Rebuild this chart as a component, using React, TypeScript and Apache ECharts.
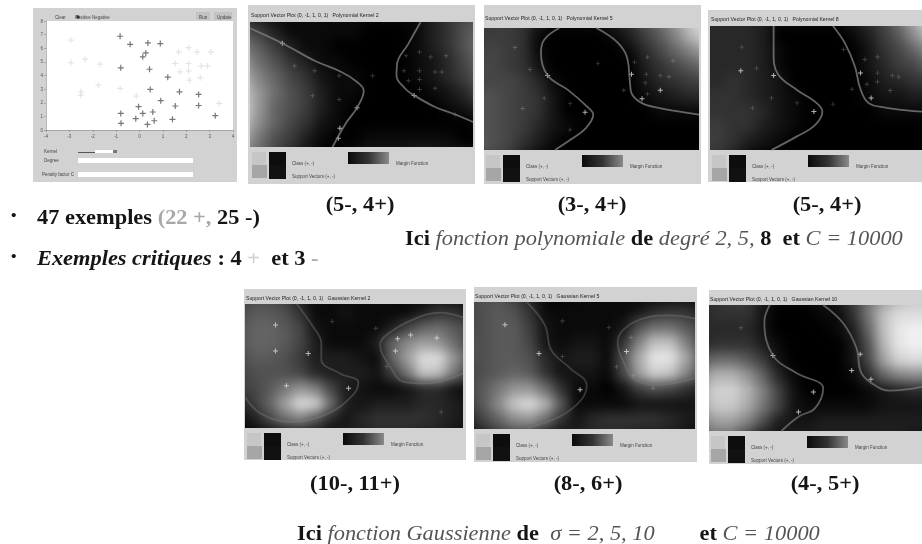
import React, { useEffect, useRef } from "react";
import * as echarts from "echarts";

// ---- first panel: training set
const negativeExamples = [[-0.83,6.88],[-0.4,6.29],[0.36,6.39],[0.89,6.34],[0.27,5.66],[0.14,5.37],[-0.8,4.56],[0.43,4.46],[1.21,3.88],[0.46,2.98],[1.71,2.8],[2.53,2.61],[0.91,2.15],[1.53,1.76],[2.53,1.8],[-0.04,1.71],[0.14,1.22],[0.57,1.32],[-0.8,1.22],[-0.16,0.83],[-0.79,0.49],[0.63,0.68],[0.34,0.41],[1.41,0.78],[3.24,1.05]];
const positiveExamples = [[-2.94,6.59],[-2.94,4.95],[-2.33,5.2],[-1.69,4.83],[-1.76,3.29],[-2.51,2.8],[-2.51,2.56],[-0.83,3.05],[1.67,5.73],[2.1,6.05],[2.46,5.73],[3.06,5.73],[1.53,4.88],[2.1,4.88],[2.64,4.71],[2.91,4.71],[1.74,4.27],[2.1,4.34],[2.14,3.66],[2.6,3.83],[3.41,1.95],[-0.14,2.49]];

// ---- density maps, grey level / 10, 16 columns by 10 rows
const heatPoly2 = [
[4,2,1,1,1,1,1,1,1,1,1,1,3,5,7,8],[8,6,3,1,1,1,1,1,0,0,0,1,3,5,8,10],[12,9,6,3,1,1,0,0,0,0,0,1,3,5,8,11],[15,11,8,5,3,1,1,0,0,0,0,1,2,4,7,10],[18,13,10,7,5,2,1,1,0,0,0,1,2,4,6,9],
[20,15,11,8,6,3,1,1,0,0,0,0,1,2,4,7],[21,15,10,8,6,3,1,0,0,0,0,0,0,1,2,4],[20,14,10,7,5,2,1,0,0,0,0,0,0,0,0,1],[17,12,8,6,3,1,0,0,1,1,1,1,1,1,0,0],[14,10,7,4,2,0,0,1,2,2,2,3,3,2,2,1]];
const heatPoly5 = [
[5,6,6,5,3,1,1,1,2,3,5,8,11,15,20,23],[6,6,6,5,1,0,0,0,0,1,3,6,9,13,18,21],[6,7,6,5,1,0,0,0,0,0,1,4,7,10,13,16],[7,7,6,5,2,0,0,0,0,0,0,3,5,7,9,11],[7,7,7,6,4,1,0,0,0,0,0,2,4,5,6,7],
[8,8,7,6,5,2,0,0,0,0,0,1,2,3,4,4],[8,8,7,6,5,2,0,0,0,0,0,0,1,1,1,1],[8,8,7,6,4,2,1,0,0,0,0,0,0,0,0,0],[9,8,7,5,3,1,0,0,0,0,0,0,0,0,0,0],[8,7,6,3,1,0,0,0,0,0,0,0,0,0,0,0]];
const heatPoly8 = [
[4,4,4,4,3,1,1,1,1,1,3,5,7,11,17,22],[4,4,4,4,3,0,0,0,0,0,1,3,6,9,14,19],[4,4,4,4,3,1,0,0,0,0,0,2,5,7,10,14],[4,4,4,4,3,1,0,0,0,0,0,2,4,6,7,10],[4,4,5,4,3,2,0,0,0,0,0,1,3,4,5,6],
[5,5,5,4,3,2,1,0,0,0,0,1,2,2,3,3],[5,5,5,5,4,2,1,0,0,0,0,0,1,1,1,1],[6,6,5,5,3,2,1,0,0,0,0,0,0,0,0,0],[6,6,5,3,2,1,0,0,0,0,0,0,0,0,0,0],[6,5,3,1,0,0,0,0,0,0,0,0,0,0,0,0]];
const heatGauss2 = [
[6,7,7,6,3,1,1,1,1,1,1,1,1,2,1,1],[7,9,9,8,5,1,1,2,1,1,1,1,3,5,5,3],[8,10,10,9,7,2,1,1,1,1,3,7,10,11,9,7],[8,10,10,9,7,3,1,1,1,3,10,14,16,15,11,7],[7,9,9,8,6,3,3,3,2,1,10,16,22,22,15,9],
[6,8,8,8,7,4,3,3,3,2,6,12,20,19,12,6],[6,7,9,12,15,13,7,3,2,1,1,2,4,4,2,1],[3,6,10,16,22,21,11,3,2,3,3,3,4,4,3,2],[1,3,7,11,13,9,4,2,4,5,5,5,5,4,3,2],[0,1,1,2,2,2,1,3,3,4,4,4,3,3,2,1]];
const heatGauss5 = [
[7,8,8,6,3,1,0,1,1,1,1,1,1,1,1,1],[7,8,9,8,5,1,1,1,1,1,1,2,4,5,5,3],[7,8,9,9,6,2,1,1,1,1,2,8,11,11,9,6],[8,8,9,9,7,2,1,2,2,1,5,13,19,19,13,7],[8,8,9,9,8,4,2,3,3,1,8,17,23,23,17,9],
[7,8,9,10,9,5,2,2,2,1,7,16,21,20,14,8],[7,9,12,15,15,11,5,1,1,0,2,6,8,7,5,3],[6,9,14,20,22,18,9,1,1,1,1,2,2,2,2,2],[3,7,10,14,15,11,5,2,4,5,5,5,5,4,3,2],[2,3,6,7,6,3,2,3,4,4,4,3,3,3,2,1]];
const heatGauss10 = [
[4,5,6,6,3,1,1,1,2,3,6,11,15,18,20,20],[4,5,5,5,2,0,0,0,1,1,5,12,19,22,22,22],[4,4,4,4,2,0,0,0,0,1,3,10,19,23,24,24],[4,5,5,5,3,1,0,0,0,0,2,8,18,23,24,24],[9,11,11,9,6,2,0,0,0,0,2,7,16,21,22,22],
[15,18,18,15,10,4,1,0,0,0,1,4,10,13,14,14],[18,21,21,18,13,7,2,0,0,0,0,1,2,3,4,4],[17,20,20,17,12,7,2,1,1,1,1,1,2,2,2,2],[13,16,16,13,8,3,2,2,3,3,3,3,3,3,3,3],[9,11,10,6,2,2,3,3,3,3,3,3,3,3,2,2]];

// ---- decision boundaries, percent of each map
const bPoly2 = [[[0,5],[14.5,17],[29,31],[41,40],[48,48],[51,55],[48,68.5],[43,81],[37,100]],[[76.5,0],[71,17.5],[66,33],[65.7,42.7],[69.4,53],[73.6,58.7],[83,68],[92,74],[100,80]]];
const bPoly5 = [[[35,0],[28,9.6],[26.5,20.5],[29.6,39],[39,50.7],[47.7,64],[50.8,71],[47.4,82],[40,91.8],[33,100]],[[52.3,0],[61.6,11],[66.3,23],[67.8,42.5],[68.6,53.4],[73.5,61.6],[81.7,65.7],[91,68.5],[100,71]]];
const bPoly8 = [[[30,0],[30,22],[32,38.7],[41,51.6],[49.5,61],[53,69],[49.5,80],[41,89],[29,100]],[[58,0],[63.7,14],[68.4,32.8],[70.8,50],[74.7,62],[83.4,66],[92.8,68],[100,69]]];
const bGauss2 = [[[23.7,0],[30.6,16.8],[35,31.6],[35,45],[43.6,56],[52,63],[49.8,72.8],[37.5,88.8],[20.7,95],[7,88],[0,75]],[[100,11],[89.6,7],[77.3,12.4],[65,24.8],[62,33],[66.6,50.5],[72.7,62.7],[83.5,64],[100,56]]];
const bGauss5 = [[[23.8,0],[32,18],[35,38],[43.4,52],[51,65.4],[48.6,77],[39,90],[23.8,99.5]],[[100,13],[88.6,10.5],[76.5,13],[67.5,22],[65,32.5],[68,48.4],[72,60],[82.5,65.4],[100,60]]];
const bGauss10 = [[[28.5,0],[26,13],[30,40],[41,54],[53.6,66],[49.7,82],[42,88.6],[34,100]],[[53.6,0],[63,14.5],[69.3,34.4],[71.3,53],[76.3,62],[85,68],[100,65]]];

// ---- support vectors (bright) and other examples (faint), percent of each map
const svPoly2 = [[14.5,17],[48,68.5],[73.6,58.7],[40.3,85],[39.6,93]];
const exPoly2 = [[20,35],[29,39],[40,43],[28,59],[40,62],[55,43],[70,27],[76,24],[81,28],[88,27],[69,39],[76,39],[83,40],[86,40],[71,47],[76,46],[83,53],[76,54],[92,74]];
const svPoly5 = [[29.6,39],[47,69],[68.6,38],[73.5,58],[82,51]];
const exPoly5 = [[14.4,16],[21.4,34],[28,57.5],[40,62],[18,66],[40,83.5],[70,28],[76,24],[88,27],[75.5,38],[82,39],[86,40],[75,45],[76,54],[65,51],[53,29]];
const svPoly8 = [[14.5,36],[30,40],[49,69],[76,58],[71,38]];
const exPoly8 = [[15,17],[22,34],[29,58],[41,62],[20,66],[58,63],[73,27],[79,25],[79,38],[86,40],[89,41],[74,47],[79,45],[85,52],[67,51],[63,19]];
const svGauss2 = [[14,17],[14,38],[29,40],[19,66],[70,28],[76,25],[88,27.5],[69,38],[47.5,68]];
const exGauss2 = [[40,14],[60,19.5],[90,87],[65,50.5]];
const svGauss5 = [[14,18],[29.4,40.5],[48,69],[69,39]];
const exGauss5 = [[40,15],[40,43],[61,20],[64.5,51],[71,28],[72,58],[81,68]];
const svGauss10 = [[30,40],[49,69],[42,85],[71,39],[76,59],[67,52]];
const exGauss10 = [[15,18],[19,66],[89,41],[91,27]];

// ---- texts
const mapCaptions = ["(5-, 4+)", "(3-, 4+)", "(5-, 4+)", "(10-, 11+)", "(8-, 6+)", "(4-, 5+)"];
const mapTitles = [
  "Support Vector Plot (0, -1, 1, 0, 1)   Polynomial Kernel 2",
  "Support Vector Plot (0, -1, 1, 0, 1)   Polynomial Kernel 5",
  "Support Vector Plot (0, -1, 1, 0, 1)   Polynomial Kernel 8",
  "Support Vector Plot (0, -1, 1, 0, 1)   Gaussian Kernel 2",
  "Support Vector Plot (0, -1, 1, 0, 1)   Gaussian Kernel 5",
  "Support Vector Plot (0, -1, 1, 0, 1)   Gaussian Kernel 10",
];

const PANELS = [
  { ox: 248, oy: 5, ow: 227, oh: 179, x: 250, y: 22, w: 223, h: 125, heat: heatPoly2, lines: bPoly2, sv: svPoly2, ex: exPoly2, capX: 360, lineA: 0.8 },
  { ox: 484, oy: 5, ow: 217, oh: 179, x: 484, y: 28, w: 215, h: 122, heat: heatPoly5, lines: bPoly5, sv: svPoly5, ex: exPoly5, capX: 592, lineA: 0.8 },
  { ox: 708, oy: 10, ow: 214, oh: 172, x: 710, y: 26, w: 212, h: 124, heat: heatPoly8, lines: bPoly8, sv: svPoly8, ex: exPoly8, capX: 827, lineA: 0.8 },
  { ox: 244, oy: 289, ow: 222, oh: 171, x: 245, y: 304, w: 218, h: 124, heat: heatGauss2, lines: bGauss2, sv: svGauss2, ex: exGauss2, capX: 355, lineA: 0.4 },
  { ox: 474, oy: 287, ow: 223, oh: 175, x: 474, y: 302, w: 221, h: 127, heat: heatGauss5, lines: bGauss5, sv: svGauss5, ex: exGauss5, capX: 588, lineA: 0.4 },
  { ox: 709, oy: 290, ow: 213, oh: 174, x: 709, y: 305, w: 213, h: 126, heat: heatGauss10, lines: bGauss10, sv: svGauss10, ex: exGauss10, capX: 825, lineA: 0.7 },
];

const PLUS = "path://M0 4H10V6H0ZM4 0H6V10H4Z";
const FRAME = "#d2d2d2";
const SERIF = '"Liberation Serif", serif';
const BLEED = 14;
const TEXT_STRETCH = 1.12;
const FS = 20;

function HeatMap({ panel }: { panel: any }) {
  const ref = useRef<HTMLDivElement>(null);
  useEffect(() => {
    const chart = echarts.init(ref.current!, undefined, { renderer: "svg" });
    const rows = panel.heat.length;
    const cols = panel.heat[0].length;
    const data: number[][] = [];
    panel.heat.forEach((row: number[], j: number) => row.forEach((v, i) => data.push([i, j, v * 10])));
    chart.setOption({
      animation: false,
      grid: { left: 0, right: 0, top: 0, bottom: 0 },
      xAxis: { type: "category", show: false, data: Array.from({ length: cols }, (_, i) => i) },
      yAxis: { type: "category", show: false, inverse: true, data: Array.from({ length: rows }, (_, i) => i) },
      visualMap: { show: false, min: 0, max: 255, dimension: 2, inRange: { color: ["#000000", "#ffffff"] } },
      series: [{ type: "heatmap", data, itemStyle: { borderWidth: 0 } }],
    });
    return () => chart.dispose();
  }, [panel]);
  return (
    <div style={{ position: "absolute", left: panel.x, top: panel.y, width: panel.w, height: panel.h, overflow: "hidden", background: "#000" }}>
      <div
        ref={ref}
        style={{
          position: "absolute",
          left: -BLEED,
          top: -BLEED,
          width: panel.w + 2 * BLEED,
          height: panel.h + 2 * BLEED,
          filter: "blur(6px)",
        }}
      />
    </div>
  );
}

function tiny(text: string, x: number, y: number, size = 4.5, fill = "#444") {
  return { type: "text", x, y, silent: true, style: { text, fill, font: `${size}px "Liberation Sans", sans-serif`, textVerticalAlign: "middle" } };
}
function box(x: number, y: number, w: number, h: number, fill: any) {
  return { type: "rect", silent: true, shape: { x, y, width: w, height: h }, style: { fill } };
}

function buildGraphics() {
  const g: any[] = [];
  // training-set window
  g.push(box(33, 8, 204, 174, FRAME));
  g.push(box(46, 21, 187, 109, "#ffffff"));
  g.push(tiny("Clear", 55, 17), tiny("Positive", 75, 17), tiny("Negative", 92, 17));
  g.push({ type: "circle", silent: true, shape: { cx: 78, cy: 17, r: 1.8 }, style: { fill: "#333" } });
  g.push(box(196, 12, 14, 8, "#c2c2c2"), box(214, 12, 18, 8, "#c2c2c2"));
  g.push(tiny("Run", 199, 17), tiny("Update", 217, 17));
  g.push(tiny("Kernel", 44, 151), tiny("Degree", 44, 160), tiny("Penalty factor C", 42, 174));
  g.push(box(78, 152, 20, 1, "#555"), box(95, 150, 18, 3, "#ffffff"), box(113, 150, 4, 3, "#777"));
  g.push(box(78, 158, 115, 5, "#ffffff"), box(78, 172, 115, 5, "#ffffff"));

  PANELS.forEach((p, i) => {
    const b = p.y + p.h;
    // frame round the map
    g.push(box(p.ox, p.oy, p.ow, p.y - p.oy, FRAME));
    g.push(box(p.ox, b, p.ow, p.oy + p.oh - b, FRAME));
    if (p.x > p.ox) g.push(box(p.ox, p.y, p.x - p.ox, p.h, FRAME));
    if (p.ox + p.ow > p.x + p.w) g.push(box(p.x + p.w, p.y, p.ox + p.ow - p.x - p.w, p.h, FRAME));
    g.push(tiny(mapTitles[i], p.x + 1, (p.oy + p.y) / 2 + 1, 5.2, "#222"));
    // legend
    g.push(box(p.x + 2, b + 5, 14, 13, "#c6c6c6"), box(p.x + 2, b + 18, 15, 13, "#a6a6a6"));
    g.push(box(p.x + 19, b + 5, 17, 13, "#0d0d0d"), box(p.x + 19, b + 18, 17, 14, "#111111"));
    g.push(tiny("Class (+, -)", p.x + 42, b + 16), tiny("Support Vectors (+, -)", p.x + 42, b + 29));
    g.push(
      box(p.x + 98, b + 5, 41, 12, new echarts.graphic.LinearGradient(0, 0, 1, 0, [
        { offset: 0, color: "#0a0a0a" },
        { offset: 0.5, color: "#333333" },
        { offset: 1, color: "#8a8a8a" },
      ]))
    );
    g.push(tiny("Margin Function", p.x + 146, b + 16));
  });

  // captions and comments
  const caption = { fill: "#151515", font: `bold ${FS}px ${SERIF}`, textVerticalAlign: "middle", textAlign: "center" };
  PANELS.forEach((p, i) => {
    g.push({ type: "text", silent: true, x: p.capX, y: i < 3 ? 204 : 483, scaleX: TEXT_STRETCH, style: { ...caption, text: mapCaptions[i] } });
  });
  const rich = {
    b: { font: `bold ${FS}px ${SERIF}`, fill: "#151515" },
    i: { font: `italic ${FS}px ${SERIF}`, fill: "#555555" },
    bi: { font: `italic bold ${FS}px ${SERIF}`, fill: "#151515" },
    g: { font: `bold ${FS}px ${SERIF}`, fill: "#a8a8a8" },
    l: { font: `bold ${FS}px ${SERIF}`, fill: "#d0d0d0" },
    d: { font: `bold 14px ${SERIF}`, fill: "#151515" },
  };
  const line = (x: number, y: number, text: string) => ({ type: "text", silent: true, x, y, scaleX: TEXT_STRETCH, style: { text, rich, textVerticalAlign: "middle", font: `bold ${FS}px ${SERIF}`, fill: "#151515" } });
  g.push(line(11, 215, "{d|•}"), line(11, 256, "{d|•}"));
  g.push(line(37, 217, "{b|47 exemples }{g|(22 +, }{b|25 -)}"));
  g.push(line(37, 258, "{bi|Exemples critiques }{b|: 4 }{l|+}{b|  et 3 }{g|-}"));
  g.push(line(405, 238, "{b|Ici }{i|fonction polynomiale }{b|de }{i|degré 2, 5, }{b|8  et }{i|C = 10000}"));
  g.push(line(297, 533, "{b|Ici }{i|fonction Gaussienne }{b|de  }{i|σ = 2, 5, }{i|10}{b|        et }{i|C = 10000}"));
  return g;
}

function buildOption() {
  const grids: any[] = [{ left: 46, top: 21, width: 187, height: 109 }];
  const xAxes: any[] = [
    {
      type: "value", gridIndex: 0, min: -4, max: 4, interval: 1, splitLine: { show: false },
      axisLine: { lineStyle: { color: "#888", width: 0.6 }, onZero: false }, axisTick: { length: 2, lineStyle: { color: "#888", width: 0.6 } },
      axisLabel: { fontSize: 4.5, color: "#555", margin: 4 },
    },
  ];
  const yAxes: any[] = [
    {
      type: "value", gridIndex: 0, min: 0, max: 8, interval: 1, splitLine: { show: false },
      axisLine: { lineStyle: { color: "#888", width: 0.6 }, onZero: false }, axisTick: { length: 2, lineStyle: { color: "#888", width: 0.6 } },
      axisLabel: { fontSize: 4.5, color: "#555", margin: 3 },
    },
  ];
  const series: any[] = [
    { type: "scatter", xAxisIndex: 0, yAxisIndex: 0, data: positiveExamples, symbol: PLUS, symbolSize: 6, itemStyle: { color: "#dddddd" } },
    { type: "scatter", xAxisIndex: 0, yAxisIndex: 0, data: negativeExamples, symbol: PLUS, symbolSize: 6, itemStyle: { color: "#555555" } },
  ];
  PANELS.forEach((p, i) => {
    const k = i + 1;
    grids.push({ left: p.x, top: p.y, width: p.w, height: p.h });
    xAxes.push({ type: "value", gridIndex: k, min: 0, max: 100, show: false });
    yAxes.push({ type: "value", gridIndex: k, min: 0, max: 100, inverse: true, show: false });
    p.lines.forEach((d) =>
      series.push({
        type: "line", xAxisIndex: k, yAxisIndex: k, data: d, smooth: 0.4, symbol: "none",
        lineStyle: { color: `rgba(125,125,125,${p.lineA})`, width: 1.8 },
      })
    );
    series.push({ type: "scatter", xAxisIndex: k, yAxisIndex: k, data: p.ex, symbol: PLUS, symbolSize: 4.5, itemStyle: { color: "rgba(210,210,210,0.32)" } });
    series.push({ type: "scatter", xAxisIndex: k, yAxisIndex: k, data: p.sv, symbol: PLUS, symbolSize: 5, itemStyle: { color: "#dcdcdc" } });
  });
  return { animation: false, backgroundColor: "transparent", grid: grids, xAxis: xAxes, yAxis: yAxes, series, graphic: { elements: buildGraphics() } };
}

export default function App() {
  const ref = useRef<HTMLDivElement>(null);
  useEffect(() => {
    const chart = echarts.init(ref.current!, undefined, { renderer: "svg" });
    chart.setOption(buildOption());
    return () => chart.dispose();
  }, []);
  return (
    <div style={{ position: "absolute", left: 0, top: 0, width: 922, height: 544, overflow: "hidden", background: "#ffffff" }}>
      {PANELS.map((p, i) => (
        <HeatMap key={i} panel={p} />
      ))}
      <div ref={ref} style={{ position: "absolute", left: 0, top: 0, width: 922, height: 544, filter: "blur(0.7px)" }} />
    </div>
  );
}
